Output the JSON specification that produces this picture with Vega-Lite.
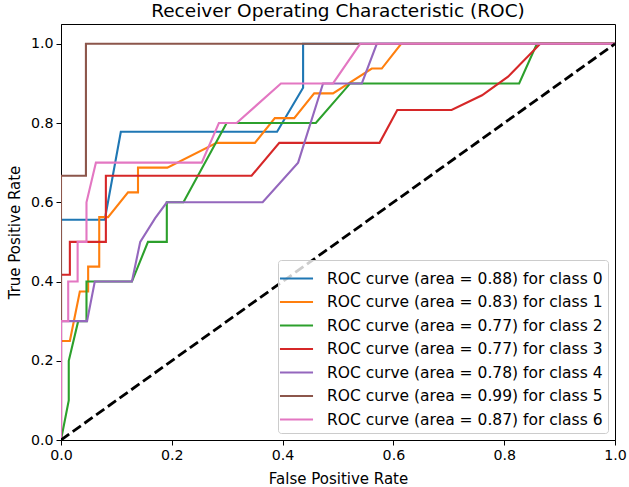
{
  "$schema": "https://vega.github.io/schema/vega-lite/v6.json",
  "width": 554,
  "height": 416,
  "autosize": {"type": "none"},
  "padding": {"left": 61, "top": 24, "right": 14, "bottom": 47},
  "title": {"text": "Receiver Operating Characteristic (ROC)", "fontSize": 18.5, "fontWeight": "normal", "frame": "group", "anchor": "middle", "offset": 4, "color": "black", "font": "DejaVu Sans"},
  "config": {
    "font": "DejaVu Sans",
    "view": {"stroke": "black", "strokeWidth": 1},
    "axis": {"labelFontSize": 14.2, "titleFontSize": 15, "titleFontWeight": "normal", "labelColor": "black", "titleColor": "black", "tickColor": "black", "domainColor": "black", "tickSize": 5, "grid": false, "labelPadding": 3, "labelFont": "DejaVu Sans", "titleFont": "DejaVu Sans"}
  },
  "datasets": {
    "roc": [
      {"series": "ROC curve (area = 0.88) for class 0", "fpr": 0, "tpr": 0},
      {"series": "ROC curve (area = 0.88) for class 0", "fpr": 0, "tpr": 0.556},
      {"series": "ROC curve (area = 0.88) for class 0", "fpr": 0.079, "tpr": 0.556},
      {"series": "ROC curve (area = 0.88) for class 0", "fpr": 0.108, "tpr": 0.778},
      {"series": "ROC curve (area = 0.88) for class 0", "fpr": 0.39, "tpr": 0.778},
      {"series": "ROC curve (area = 0.88) for class 0", "fpr": 0.437, "tpr": 0.889},
      {"series": "ROC curve (area = 0.88) for class 0", "fpr": 0.437, "tpr": 1},
      {"series": "ROC curve (area = 0.88) for class 0", "fpr": 1, "tpr": 1},

      {"series": "ROC curve (area = 0.83) for class 1", "fpr": 0, "tpr": 0},
      {"series": "ROC curve (area = 0.83) for class 1", "fpr": 0, "tpr": 0.25},
      {"series": "ROC curve (area = 0.83) for class 1", "fpr": 0.016, "tpr": 0.25},
      {"series": "ROC curve (area = 0.83) for class 1", "fpr": 0.025, "tpr": 0.3125},
      {"series": "ROC curve (area = 0.83) for class 1", "fpr": 0.034, "tpr": 0.375},
      {"series": "ROC curve (area = 0.83) for class 1", "fpr": 0.049, "tpr": 0.375},
      {"series": "ROC curve (area = 0.83) for class 1", "fpr": 0.049, "tpr": 0.4375},
      {"series": "ROC curve (area = 0.83) for class 1", "fpr": 0.069, "tpr": 0.4375},
      {"series": "ROC curve (area = 0.83) for class 1", "fpr": 0.069, "tpr": 0.5625},
      {"series": "ROC curve (area = 0.83) for class 1", "fpr": 0.085, "tpr": 0.5625},
      {"series": "ROC curve (area = 0.83) for class 1", "fpr": 0.121, "tpr": 0.625},
      {"series": "ROC curve (area = 0.83) for class 1", "fpr": 0.139, "tpr": 0.625},
      {"series": "ROC curve (area = 0.83) for class 1", "fpr": 0.139, "tpr": 0.6875},
      {"series": "ROC curve (area = 0.83) for class 1", "fpr": 0.192, "tpr": 0.6875},
      {"series": "ROC curve (area = 0.83) for class 1", "fpr": 0.281, "tpr": 0.75},
      {"series": "ROC curve (area = 0.83) for class 1", "fpr": 0.35, "tpr": 0.75},
      {"series": "ROC curve (area = 0.83) for class 1", "fpr": 0.386, "tpr": 0.8125},
      {"series": "ROC curve (area = 0.83) for class 1", "fpr": 0.421, "tpr": 0.8125},
      {"series": "ROC curve (area = 0.83) for class 1", "fpr": 0.457, "tpr": 0.875},
      {"series": "ROC curve (area = 0.83) for class 1", "fpr": 0.491, "tpr": 0.875},
      {"series": "ROC curve (area = 0.83) for class 1", "fpr": 0.561, "tpr": 0.9375},
      {"series": "ROC curve (area = 0.83) for class 1", "fpr": 0.579, "tpr": 0.9375},
      {"series": "ROC curve (area = 0.83) for class 1", "fpr": 0.614, "tpr": 1},
      {"series": "ROC curve (area = 0.83) for class 1", "fpr": 1, "tpr": 1},

      {"series": "ROC curve (area = 0.77) for class 2", "fpr": 0, "tpr": 0},
      {"series": "ROC curve (area = 0.77) for class 2", "fpr": 0.014, "tpr": 0.1},
      {"series": "ROC curve (area = 0.77) for class 2", "fpr": 0.014, "tpr": 0.2},
      {"series": "ROC curve (area = 0.77) for class 2", "fpr": 0.031, "tpr": 0.3},
      {"series": "ROC curve (area = 0.77) for class 2", "fpr": 0.046, "tpr": 0.3},
      {"series": "ROC curve (area = 0.77) for class 2", "fpr": 0.046, "tpr": 0.4},
      {"series": "ROC curve (area = 0.77) for class 2", "fpr": 0.128, "tpr": 0.4},
      {"series": "ROC curve (area = 0.77) for class 2", "fpr": 0.157, "tpr": 0.5},
      {"series": "ROC curve (area = 0.77) for class 2", "fpr": 0.191, "tpr": 0.5},
      {"series": "ROC curve (area = 0.77) for class 2", "fpr": 0.191, "tpr": 0.6},
      {"series": "ROC curve (area = 0.77) for class 2", "fpr": 0.221, "tpr": 0.6},
      {"series": "ROC curve (area = 0.77) for class 2", "fpr": 0.299, "tpr": 0.8},
      {"series": "ROC curve (area = 0.77) for class 2", "fpr": 0.46, "tpr": 0.8},
      {"series": "ROC curve (area = 0.77) for class 2", "fpr": 0.522, "tpr": 0.9},
      {"series": "ROC curve (area = 0.77) for class 2", "fpr": 0.827, "tpr": 0.9},
      {"series": "ROC curve (area = 0.77) for class 2", "fpr": 0.859, "tpr": 1},
      {"series": "ROC curve (area = 0.77) for class 2", "fpr": 1, "tpr": 1},

      {"series": "ROC curve (area = 0.77) for class 3", "fpr": 0, "tpr": 0},
      {"series": "ROC curve (area = 0.77) for class 3", "fpr": 0, "tpr": 0.417},
      {"series": "ROC curve (area = 0.77) for class 3", "fpr": 0.016, "tpr": 0.417},
      {"series": "ROC curve (area = 0.77) for class 3", "fpr": 0.016, "tpr": 0.5},
      {"series": "ROC curve (area = 0.77) for class 3", "fpr": 0.081, "tpr": 0.5},
      {"series": "ROC curve (area = 0.77) for class 3", "fpr": 0.081, "tpr": 0.667},
      {"series": "ROC curve (area = 0.77) for class 3", "fpr": 0.344, "tpr": 0.667},
      {"series": "ROC curve (area = 0.77) for class 3", "fpr": 0.394, "tpr": 0.75},
      {"series": "ROC curve (area = 0.77) for class 3", "fpr": 0.575, "tpr": 0.75},
      {"series": "ROC curve (area = 0.77) for class 3", "fpr": 0.607, "tpr": 0.833},
      {"series": "ROC curve (area = 0.77) for class 3", "fpr": 0.705, "tpr": 0.833},
      {"series": "ROC curve (area = 0.77) for class 3", "fpr": 0.76, "tpr": 0.87},
      {"series": "ROC curve (area = 0.77) for class 3", "fpr": 0.807, "tpr": 0.917},
      {"series": "ROC curve (area = 0.77) for class 3", "fpr": 0.865, "tpr": 1},
      {"series": "ROC curve (area = 0.77) for class 3", "fpr": 1, "tpr": 1},

      {"series": "ROC curve (area = 0.78) for class 4", "fpr": 0, "tpr": 0},
      {"series": "ROC curve (area = 0.78) for class 4", "fpr": 0, "tpr": 0.3},
      {"series": "ROC curve (area = 0.78) for class 4", "fpr": 0.047, "tpr": 0.3},
      {"series": "ROC curve (area = 0.78) for class 4", "fpr": 0.061, "tpr": 0.4},
      {"series": "ROC curve (area = 0.78) for class 4", "fpr": 0.128, "tpr": 0.4},
      {"series": "ROC curve (area = 0.78) for class 4", "fpr": 0.143, "tpr": 0.5},
      {"series": "ROC curve (area = 0.78) for class 4", "fpr": 0.17, "tpr": 0.56},
      {"series": "ROC curve (area = 0.78) for class 4", "fpr": 0.191, "tpr": 0.6},
      {"series": "ROC curve (area = 0.78) for class 4", "fpr": 0.364, "tpr": 0.6},
      {"series": "ROC curve (area = 0.78) for class 4", "fpr": 0.428, "tpr": 0.7},
      {"series": "ROC curve (area = 0.78) for class 4", "fpr": 0.473, "tpr": 0.9},
      {"series": "ROC curve (area = 0.78) for class 4", "fpr": 0.543, "tpr": 0.9},
      {"series": "ROC curve (area = 0.78) for class 4", "fpr": 0.57, "tpr": 1},
      {"series": "ROC curve (area = 0.78) for class 4", "fpr": 1, "tpr": 1},

      {"series": "ROC curve (area = 0.99) for class 5", "fpr": 0, "tpr": 0},
      {"series": "ROC curve (area = 0.99) for class 5", "fpr": 0, "tpr": 0.667},
      {"series": "ROC curve (area = 0.99) for class 5", "fpr": 0.045, "tpr": 0.667},
      {"series": "ROC curve (area = 0.99) for class 5", "fpr": 0.045, "tpr": 1},
      {"series": "ROC curve (area = 0.99) for class 5", "fpr": 1, "tpr": 1},

      {"series": "ROC curve (area = 0.87) for class 6", "fpr": 0, "tpr": 0},
      {"series": "ROC curve (area = 0.87) for class 6", "fpr": 0, "tpr": 0.3},
      {"series": "ROC curve (area = 0.87) for class 6", "fpr": 0.013, "tpr": 0.3},
      {"series": "ROC curve (area = 0.87) for class 6", "fpr": 0.013, "tpr": 0.4},
      {"series": "ROC curve (area = 0.87) for class 6", "fpr": 0.03, "tpr": 0.4},
      {"series": "ROC curve (area = 0.87) for class 6", "fpr": 0.03, "tpr": 0.5},
      {"series": "ROC curve (area = 0.87) for class 6", "fpr": 0.046, "tpr": 0.5},
      {"series": "ROC curve (area = 0.87) for class 6", "fpr": 0.046, "tpr": 0.6},
      {"series": "ROC curve (area = 0.87) for class 6", "fpr": 0.063, "tpr": 0.7},
      {"series": "ROC curve (area = 0.87) for class 6", "fpr": 0.254, "tpr": 0.7},
      {"series": "ROC curve (area = 0.87) for class 6", "fpr": 0.285, "tpr": 0.8},
      {"series": "ROC curve (area = 0.87) for class 6", "fpr": 0.317, "tpr": 0.8},
      {"series": "ROC curve (area = 0.87) for class 6", "fpr": 0.397, "tpr": 0.9},
      {"series": "ROC curve (area = 0.87) for class 6", "fpr": 0.491, "tpr": 0.9},
      {"series": "ROC curve (area = 0.87) for class 6", "fpr": 0.54, "tpr": 1},
      {"series": "ROC curve (area = 0.87) for class 6", "fpr": 1, "tpr": 1}
    ],
    "diag": [{"fpr": 0, "tpr": 0}, {"fpr": 1, "tpr": 1}]
  },
  "layer": [
    {
      "data": {"name": "roc"},
      "mark": {"type": "line", "strokeWidth": 2.1, "clip": true},
      "encoding": {
        "x": {"field": "fpr", "type": "quantitative", "scale": {"domain": [0, 1], "nice": false}, "title": "False Positive Rate",
              "axis": {"values": [0, 0.2, 0.4, 0.6, 0.8, 1.0], "format": ".1f", "labelFlush": false, "titlePadding": 9}},
        "y": {"field": "tpr", "type": "quantitative", "scale": {"domain": [0, 1.05], "nice": false}, "title": "True Positive Rate",
              "axis": {"values": [0, 0.2, 0.4, 0.6, 0.8, 1.0], "format": ".1f", "labelFlush": false, "titlePadding": 8}},
        "color": {"field": "series", "type": "nominal",
          "scale": {"domain": ["ROC curve (area = 0.88) for class 0", "ROC curve (area = 0.83) for class 1", "ROC curve (area = 0.77) for class 2", "ROC curve (area = 0.77) for class 3", "ROC curve (area = 0.78) for class 4", "ROC curve (area = 0.99) for class 5", "ROC curve (area = 0.87) for class 6"],
                    "range": ["#1f77b4", "#ff7f0e", "#2ca02c", "#d62728", "#9467bd", "#8c564b", "#e377c2"]},
          "legend": {"title": null, "orient": "bottom-right", "offset": 7, "symbolType": "M-1.35,0H1.35", "symbolSize": 600, "symbolStrokeWidth": 2.1,
                     "labelFontSize": 15.5, "labelColor": "black", "labelFont": "DejaVu Sans", "labelLimit": 400, "labelOffset": 17,
                     "fillColor": "rgba(255,255,255,0.8)", "strokeColor": "#cccccc", "cornerRadius": 3, "padding": 5, "rowPadding": 1.5}},
        "order": {"value": null}
      }
    },
    {
      "data": {"name": "diag"},
      "mark": {"type": "line", "color": "black", "strokeDash": [10, 4.4], "strokeWidth": 2.8, "clip": true},
      "encoding": {
        "x": {"field": "fpr", "type": "quantitative", "title": "False Positive Rate"},
        "y": {"field": "tpr", "type": "quantitative", "title": "True Positive Rate"}
      }
    }
  ]
}
